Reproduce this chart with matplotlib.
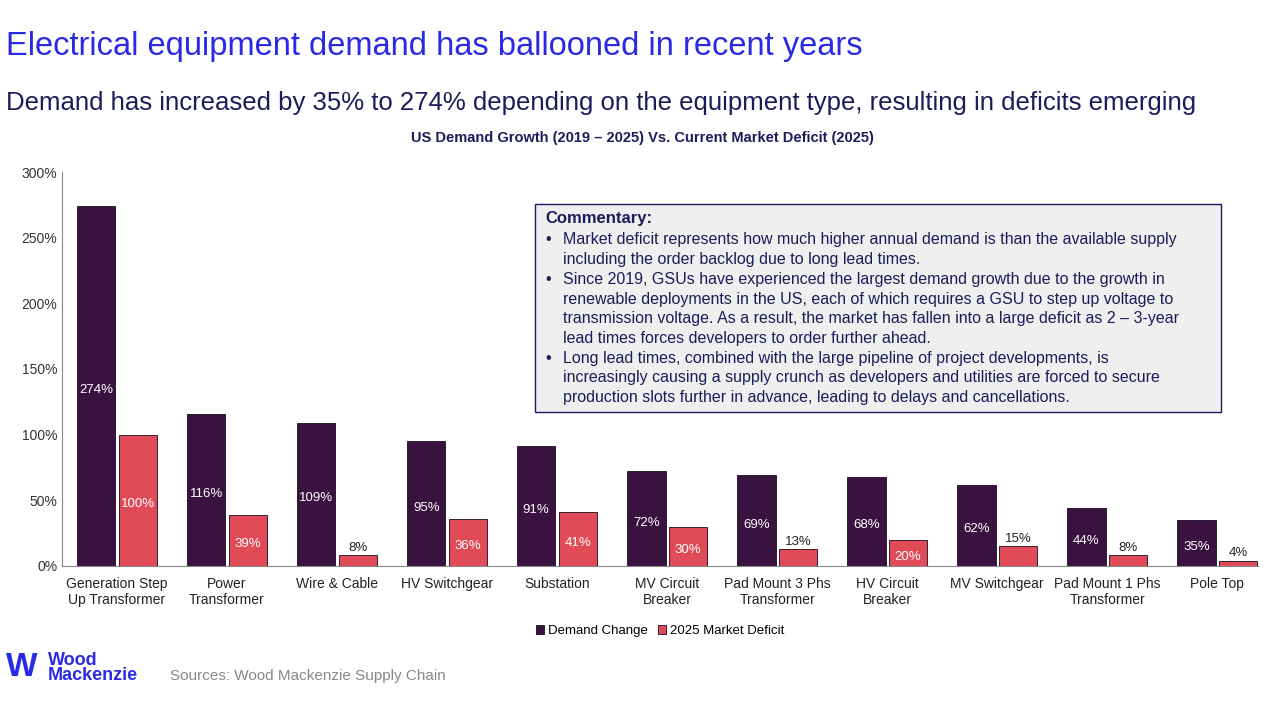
import numpy as np
import matplotlib.pyplot as plt
from matplotlib.patches import Rectangle

plt.rcParams['font.family'] = ['Liberation Sans', 'DejaVu Sans']

categories = ["Generation Step\nUp Transformer", "Power\nTransformer", "Wire & Cable",
              "HV Switchgear", "Substation", "MV Circuit\nBreaker", "Pad Mount 3 Phs\nTransformer",
              "HV Circuit\nBreaker", "MV Switchgear", "Pad Mount 1 Phs\nTransformer", "Pole Top"]
demand_change = [274, 116, 109, 95, 91, 72, 69, 68, 62, 44, 35]
market_deficit = [100, 39, 8, 36, 41, 30, 13, 20, 15, 8, 4]

dark = "#3a1240"
red = "#e14b57"
navy = "#1c1c5a"

fig = plt.figure(figsize=(12.8, 7.2), dpi=100)
fig.text(0.005, 1 - 47 / 720, "Electrical equipment demand has ballooned in recent years",
         fontsize=23.5, color="#2a2ae6", va="center")
fig.text(0.005, 1 - 103 / 720, "Demand has increased by 35% to 274% depending on the equipment type, resulting in deficits emerging",
         fontsize=18.5, color=navy, va="center")

ax = fig.add_axes([62 / 1280, 0.214, 1196 / 1280, 0.547])
x = np.arange(len(categories))
w = 0.35
b1 = ax.bar(x - 0.19, demand_change, w, color=dark, edgecolor="#1a0a20", linewidth=0.6, label="Demand Change")
b2 = ax.bar(x + 0.19, market_deficit, w, color=red, edgecolor="#1a0a20", linewidth=0.6, label="2025 Market Deficit")
for bars, vals in ((b1, demand_change), (b2, market_deficit)):
    for r, v in zip(bars, vals):
        cx = r.get_x() + r.get_width() / 2
        if v < 16:
            ax.text(cx, v + 1, f"{v}%", ha="center", va="bottom", fontsize=9.5, color="#222222")
        else:
            ax.text(cx, v / 2 - 3, f"{v}%", ha="center", va="center", fontsize=9.5, color="white")

ax.set_xlim(-0.5, 10.37)
ax.set_ylim(0, 300)
ax.set_yticks(range(0, 301, 50))
ax.set_yticklabels([f"{t}%" for t in range(0, 301, 50)], fontsize=10, color="#333333")
ax.set_xticks(x)
ax.set_xticklabels(categories, fontsize=10, color="#222222")
ax.tick_params(axis="x", length=0, pad=8)
ax.tick_params(axis="y", length=0)
for s in ("top", "right"):
    ax.spines[s].set_visible(False)
ax.spines["left"].set_color("#888888")
ax.spines["bottom"].set_color("#888888")
ax.set_title("US Demand Growth (2019 – 2025) Vs. Current Market Deficit (2025)",
             fontsize=10.5, fontweight="bold", color=navy, pad=22, x=0.485)
ax.legend(loc="upper center", bbox_to_anchor=(0.5, -0.12), ncol=2, frameon=False,
          fontsize=9.5, handlelength=0.6, handleheight=0.6, columnspacing=0.8, handletextpad=0.3)

box = Rectangle((535 / 1280, 1 - 412 / 720), 686 / 1280, 208 / 720, transform=fig.transFigure,
                facecolor="#efefef", edgecolor=navy, linewidth=1)
fig.add_artist(box)
fig.text(545 / 1280, 1 - 218 / 720, "Commentary:", fontsize=12, fontweight="bold", color=navy, va="center")
lines = [
    ("•", "Market deficit represents how much higher annual demand is than the available supply"),
    ("", "including the order backlog due to long lead times."),
    ("•", "Since 2019, GSUs have experienced the largest demand growth due to the growth in"),
    ("", "renewable deployments in the US, each of which requires a GSU to step up voltage to"),
    ("", "transmission voltage. As a result, the market has fallen into a large deficit as 2 – 3-year"),
    ("", "lead times forces developers to order further ahead."),
    ("•", "Long lead times, combined with the large pipeline of project developments, is"),
    ("", "increasingly causing a supply crunch as developers and utilities are forced to secure"),
    ("", "production slots further in advance, leading to delays and cancellations."),
]
for i, (b, t) in enumerate(lines):
    y = 1 - (240 + i * 19.7) / 720
    if b:
        fig.text(545 / 1280, y, b, fontsize=11.5, color=navy, va="center")
    fig.text(563 / 1280, y, t, fontsize=11.5, color=navy, va="center")

fig.text(48 / 1280, 1 - 668 / 720, "Wood\nMackenzie", fontsize=13, fontweight="bold",
         color="#2a2ae6", va="center", linespacing=0.9)
fig.text(6 / 1280, 1 - 668 / 720, "W", fontsize=24, fontweight="bold", color="#2a2ae6", va="center")
fig.text(170 / 1280, 1 - 676 / 720, "Sources: Wood Mackenzie Supply Chain", fontsize=11, color="#888888", va="center")

fig.savefig("out.png", dpi=100)
